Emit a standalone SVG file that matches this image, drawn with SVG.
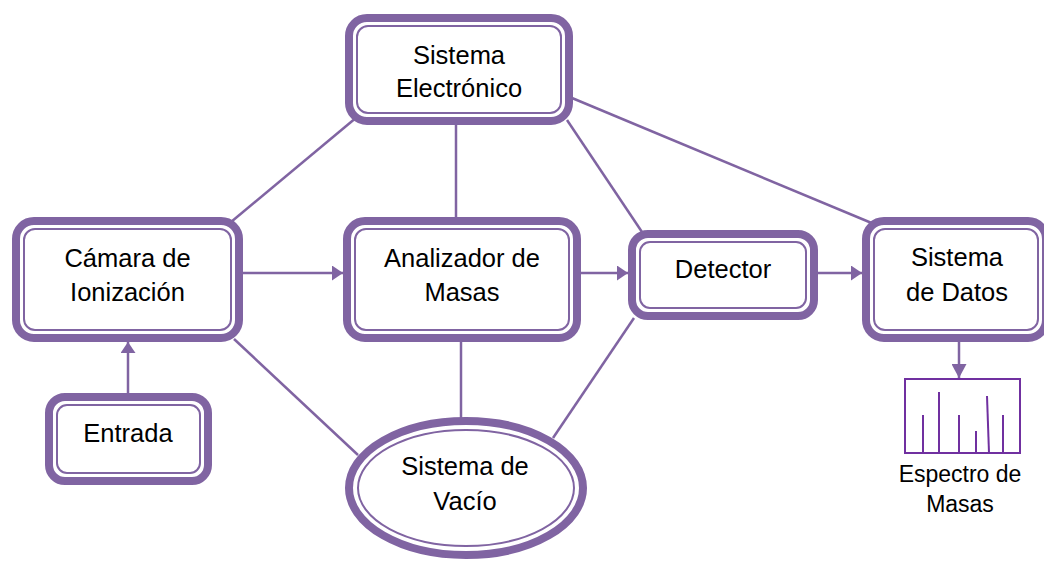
<svg xmlns="http://www.w3.org/2000/svg" width="1044" height="561" viewBox="0 0 1044 561">
  <defs>
    <marker id="arrow" markerUnits="userSpaceOnUse" viewBox="0 0 11 15" refX="11" refY="7.5" markerWidth="11" markerHeight="15" orient="auto">
      <path d="M0,0 L11,7.5 L0,15 Z" fill="#8064A2"/>
    </marker>
    <marker id="arrowSpec" markerUnits="userSpaceOnUse" viewBox="0 0 14 15" refX="14" refY="7.5" markerWidth="14" markerHeight="15" orient="auto">
      <path d="M0,0 L14,7.5 L0,15 Z" fill="#8064A2"/>
    </marker>
  </defs>
  <style>
    .outer { fill: #ffffff; stroke: #8064A2; stroke-width: 8; }
    .inner { fill: none; stroke: #8064A2; stroke-width: 2; }
    .conn { stroke: #8064A2; stroke-width: 2.5; fill: none; }
    .label { font-family: "Liberation Sans", Arial, sans-serif; font-size: 25.5px; fill: #000000; text-anchor: middle; }
    .small { font-family: "Liberation Sans", Arial, sans-serif; font-size: 23px; fill: #000000; text-anchor: middle; }
    .spec { stroke: #7030A0; stroke-width: 2; fill: none; }
  </style>
  <rect width="1044" height="561" fill="#ffffff"/>

  <!-- connectors -->
  <g id="connectors">
    <line class="conn" x1="357" y1="117" x2="231" y2="222"/>
    <line class="conn" x1="456" y1="123" x2="456" y2="218"/>
    <line class="conn" x1="567" y1="120" x2="642" y2="232"/>
    <line class="conn" x1="572" y1="98" x2="874" y2="224"/>
    <line class="conn" x1="234" y1="339" x2="358" y2="455"/>
    <line class="conn" x1="461" y1="340" x2="461" y2="419"/>
    <line class="conn" x1="634" y1="318" x2="553" y2="438"/>
    <line class="conn" x1="243" y1="273" x2="343" y2="273" marker-end="url(#arrow)"/>
    <line class="conn" x1="581" y1="273" x2="628" y2="273" marker-end="url(#arrow)"/>
    <line class="conn" x1="818" y1="273" x2="862" y2="273" marker-end="url(#arrow)"/>
    <line class="conn" x1="128" y1="393" x2="128" y2="342" marker-end="url(#arrow)"/>
    <line class="conn" x1="959" y1="342" x2="959" y2="378" marker-end="url(#arrowSpec)"/>
  </g>

  <g id="sistema-electronico">
    <rect class="outer" x="349" y="18" width="220" height="103" rx="18"/>
    <rect class="inner" x="357" y="26" width="204" height="87" rx="11"/>
    <text class="label" x="459" y="64">Sistema</text>
    <text class="label" x="459" y="97">Electrónico</text>
  </g>

  <g id="camara-ionizacion">
    <rect class="outer" x="16" y="221" width="223" height="117" rx="18"/>
    <rect class="inner" x="24" y="229" width="207" height="101" rx="11"/>
    <text class="label" x="127.5" y="267">Cámara de</text>
    <text class="label" x="127.5" y="301">Ionización</text>
  </g>

  <g id="analizador-masas">
    <rect class="outer" x="347" y="221" width="230" height="117" rx="18"/>
    <rect class="inner" x="355" y="229" width="214" height="101" rx="11"/>
    <text class="label" x="462" y="267">Analizador de</text>
    <text class="label" x="462" y="301">Masas</text>
  </g>

  <g id="detector">
    <rect class="outer" x="632" y="234" width="182" height="82" rx="16"/>
    <rect class="inner" x="640" y="242" width="166" height="66" rx="10"/>
    <text class="label" x="723" y="278">Detector</text>
  </g>

  <g id="sistema-datos">
    <rect class="outer" x="866" y="221" width="180" height="117" rx="18"/>
    <rect class="inner" x="874" y="229" width="164" height="101" rx="11"/>
    <text class="label" x="957" y="266">Sistema</text>
    <text class="label" x="957" y="301">de Datos</text>
  </g>

  <g id="entrada">
    <rect class="outer" x="49" y="397" width="159" height="84" rx="16"/>
    <rect class="inner" x="57" y="405" width="143" height="68" rx="10"/>
    <text class="label" x="128" y="442">Entrada</text>
  </g>

  <g id="sistema-vacio">
    <ellipse class="outer" cx="466" cy="488" rx="117" ry="67"/>
    <ellipse class="inner" cx="466" cy="488" rx="108" ry="58"/>
    <text class="label" x="465" y="475">Sistema de</text>
    <text class="label" x="465" y="510">Vacío</text>
  </g>

  <g id="espectro-masas">
    <rect class="spec" x="905" y="379" width="115" height="74"/>
    <line class="spec" x1="923" y1="415" x2="923" y2="453"/>
    <line class="spec" x1="939" y1="392" x2="939" y2="453"/>
    <line class="spec" x1="959" y1="415" x2="959" y2="453"/>
    <line class="spec" x1="976" y1="431" x2="976" y2="453"/>
    <line class="spec" x1="987" y1="396" x2="989" y2="453"/>
    <line class="spec" x1="1003" y1="415" x2="1003" y2="453"/>
    <text class="small" x="960" y="482">Espectro de</text>
    <text class="small" x="960" y="512">Masas</text>
  </g>
</svg>
